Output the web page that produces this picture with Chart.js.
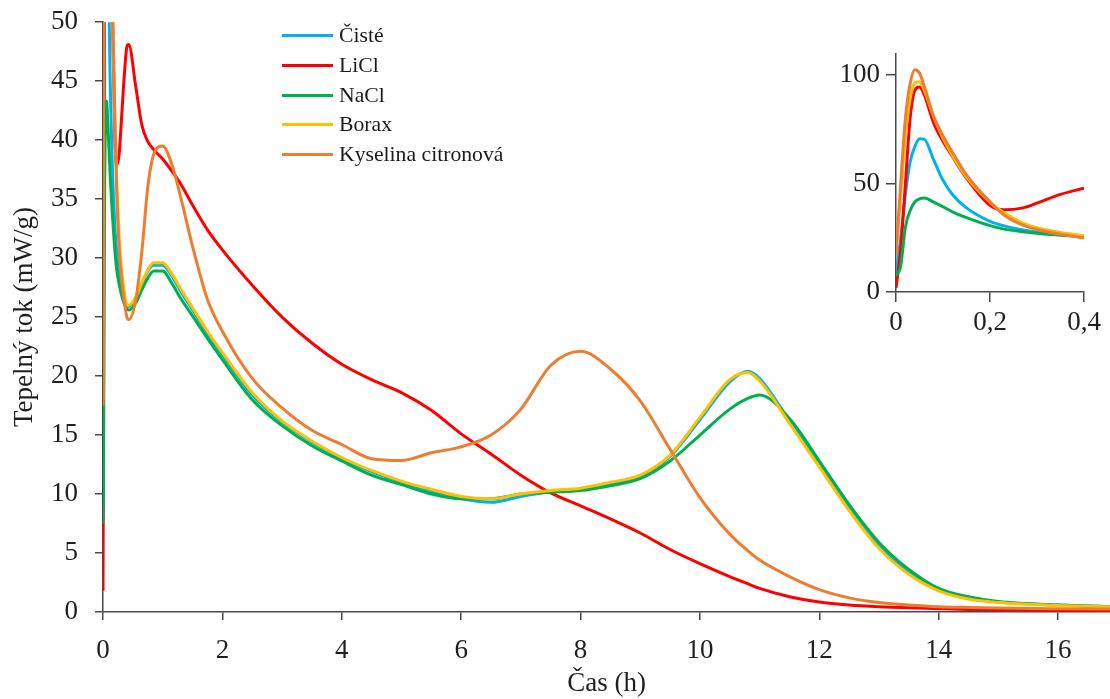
<!DOCTYPE html>
<html><head><meta charset="utf-8">
<script src="https://cdn.jsdelivr.net/npm/chart.js@4.4.1/dist/chart.umd.min.js"></script>
<style>
html,body{margin:0;padding:0;background:#fff}
#wrap{position:relative;width:1110px;height:699px;overflow:hidden}
#main{position:absolute;left:0;top:-11px}
#inset{position:absolute;left:820px;top:34px}
#legend{position:absolute;left:282px;top:21px;font-family:"Liberation Serif","Times New Roman",serif;font-size:21.7px;color:#1a1a1a}
.row{height:29.7px;display:flex;align-items:center;white-space:nowrap}
.swatch{width:51px;height:3px;margin-right:6px}
</style></head>
<body>
<div id="wrap">
  <canvas id="main" width="1110" height="710"></canvas>
  <canvas id="inset" width="290" height="310"></canvas>
  <div id="legend"></div>
</div>
<script>
// time (h) shared by all series
const timeH=[0,0.01,0.02,0.03,0.04,0.05,0.06,0.08,0.1,0.12,0.15,0.2,0.23,0.27,0.3,0.35,0.4,0.43,
  0.55,0.65,0.75,0.85,1.0,1.15,1.3,1.5,1.75,2,
  2.5,3,3.5,4,4.5,5,5.5,6,6.5,7,7.5,8,8.5,9,9.5,10,
  10.5,10.8,11,11.5,12,12.5,13,13.5,14,14.5,15,16,17];
const cisteVals=[8,25,45,60,67,70.7,70.5,61,51.5,45,38.8,32.6,30.5,28.6,27.6,26.5,26.0,25.9,
  26.6,27.8,28.9,29.4,29.4,28.5,27.2,25.6,23.6,21.8,
  18.4,16.1,14.4,13.0,11.9,11.0,10.2,9.6,9.3,9.8,10.2,10.4,10.9,11.4,13.2,16.3,
  19.5,20.4,19.8,16.2,12.5,8.9,5.7,3.4,1.9,1.2,0.85,0.6,0.45];
const liclVals=[1.8,20,50,80,93,94.5,91,78,69.5,62.5,52.5,40,37.9,38.8,41,45,47.9,48.1,
  44.5,41.3,39.9,39.2,38.4,37.4,36.3,34.5,32.4,30.7,
  27.7,25.0,22.8,21.0,19.7,18.6,17.1,15.1,13.4,11.6,10.1,9.0,7.9,6.7,5.3,4.1,
  3.0,2.4,2.0,1.3,0.85,0.6,0.45,0.35,0.28,0.22,0.2,0.15,0.12];
const naclVals=[7.5,12,30,37.5,41.5,43,43.3,41.5,39.3,37,34.3,30.6,29.0,27.8,27.1,26.2,25.7,25.6,
  26.2,27.3,28.3,28.9,28.9,27.9,26.6,25.1,23.2,21.4,
  18.0,15.8,14.1,12.8,11.6,10.8,10.0,9.6,9.6,10.0,10.15,10.3,10.7,11.3,12.8,15.0,
  17.2,18.1,18.4,16.4,12.8,9.1,5.9,3.6,2.0,1.3,0.9,0.6,0.45];
const boraxVals=[18,45,72,89,96.5,97,93,81,71,63,53,41.5,36.5,31.8,29.6,27.4,26.0,26.0,
  26.7,27.9,29.0,29.6,29.6,28.7,27.4,25.8,23.8,22.0,
  18.6,16.2,14.5,13.1,12.0,11.1,10.4,9.8,9.6,10.0,10.3,10.5,11.0,11.6,13.3,16.5,
  19.7,20.3,19.6,16.0,12.3,8.6,5.4,3.2,1.8,1.1,0.8,0.55,0.42];
const citricVals=[17.5,50,80,96,102.5,101,95,81,72,64.5,54,41.5,35.5,30.8,28.8,26.6,25.0,24.8,
  26.5,30.5,36.0,38.8,39.5,38.0,35.2,31.0,26.5,23.8,
  19.8,17.3,15.4,14.2,13.0,12.85,13.5,14.0,15.0,17.2,20.9,22.1,20.6,17.9,13.8,9.7,
  6.6,5.2,4.4,3.0,1.9,1.2,0.8,0.6,0.45,0.38,0.33,0.28,0.25];

const seriesNames=["Čisté","LiCl","NaCl","Borax","Kyselina citronová"];
const seriesVals=[cisteVals,liclVals,naclVals,boraxVals,citricVals];
const seriesColors=["#00B0F0","#FF0000","#00B050","#FFC000","#ED7D31"];

const F='"Liberation Serif","Times New Roman",serif';
const TXT="#1f1f1f",AX="#4a4a4a";

function makeSets(tMax,width){
  return seriesNames.map((n,i)=>({
    label:n,
    data:timeH.map((t,k)=>({x:t,y:seriesVals[i][k]})).filter(p=>p.x<=tMax),
    borderColor:seriesColors[i],borderWidth:width,pointRadius:0,fill:false,
    cubicInterpolationMode:"monotone",order:seriesNames.length-i
  }));
}

new Chart(document.getElementById("main"),{type:"line",
  data:{datasets:makeSets(99,3)},
  options:{responsive:false,animation:false,
    layout:{padding:0},
    plugins:{legend:{display:false},tooltip:{enabled:false}},
    scales:{
      x:{type:"linear",min:0,max:16.87,
        ticks:{stepSize:2,includeBounds:false,padding:15,maxRotation:0,color:TXT,font:{family:F,size:27}},
        grid:{drawOnChartArea:false,tickLength:8,color:AX,lineWidth:1.5},
        border:{color:AX,width:1.5},
        title:{display:true,text:"Čas (h)",color:TXT,font:{family:F,size:27},padding:{top:-15.1,bottom:-0.7}}},
      y:{min:0,max:50,
        ticks:{stepSize:5,padding:17,color:TXT,font:{family:F,size:27}},
        grid:{drawOnChartArea:false,tickLength:8,color:AX,lineWidth:1.5},
        border:{color:AX,width:1.5},
        title:{display:true,text:"Tepelný tok (mW/g)",color:TXT,font:{family:F,size:27},padding:{top:9,bottom:-7.4}}}
    }}});

new Chart(document.getElementById("inset"),{type:"line",
  data:{datasets:makeSets(0.4,3)},
  options:{responsive:false,animation:false,
    layout:{padding:{left:13.5,top:0,right:26,bottom:0}},
    plugins:{legend:{display:false},tooltip:{enabled:false}},
    scales:{
      x:{type:"linear",min:0,max:0.4,
        ticks:{stepSize:0.2,includeBounds:false,padding:7.5,maxRotation:0,color:TXT,font:{family:F,size:27,lineHeight:1},
          callback:v=>String(+v.toFixed(1)).replace(".",",")},
        grid:{drawOnChartArea:false,tickLength:10,color:AX,lineWidth:1.5},
        border:{color:AX,width:1.5}},
      y:{min:0,max:110,
        ticks:{stepSize:50,includeBounds:false,padding:6,color:TXT,font:{family:F,size:27,lineHeight:1}},
        grid:{drawOnChartArea:false,tickLength:10,color:AX,lineWidth:1.5},
        border:{color:AX,width:1.5}}
    }}});

const leg=document.getElementById("legend");
seriesNames.forEach((n,i)=>{
  const r=document.createElement("div");r.className="row";
  r.innerHTML='<span class="swatch" style="background:'+seriesColors[i]+'"></span><span>'+n+'</span>';
  leg.appendChild(r);
});
</script>
</body></html>
